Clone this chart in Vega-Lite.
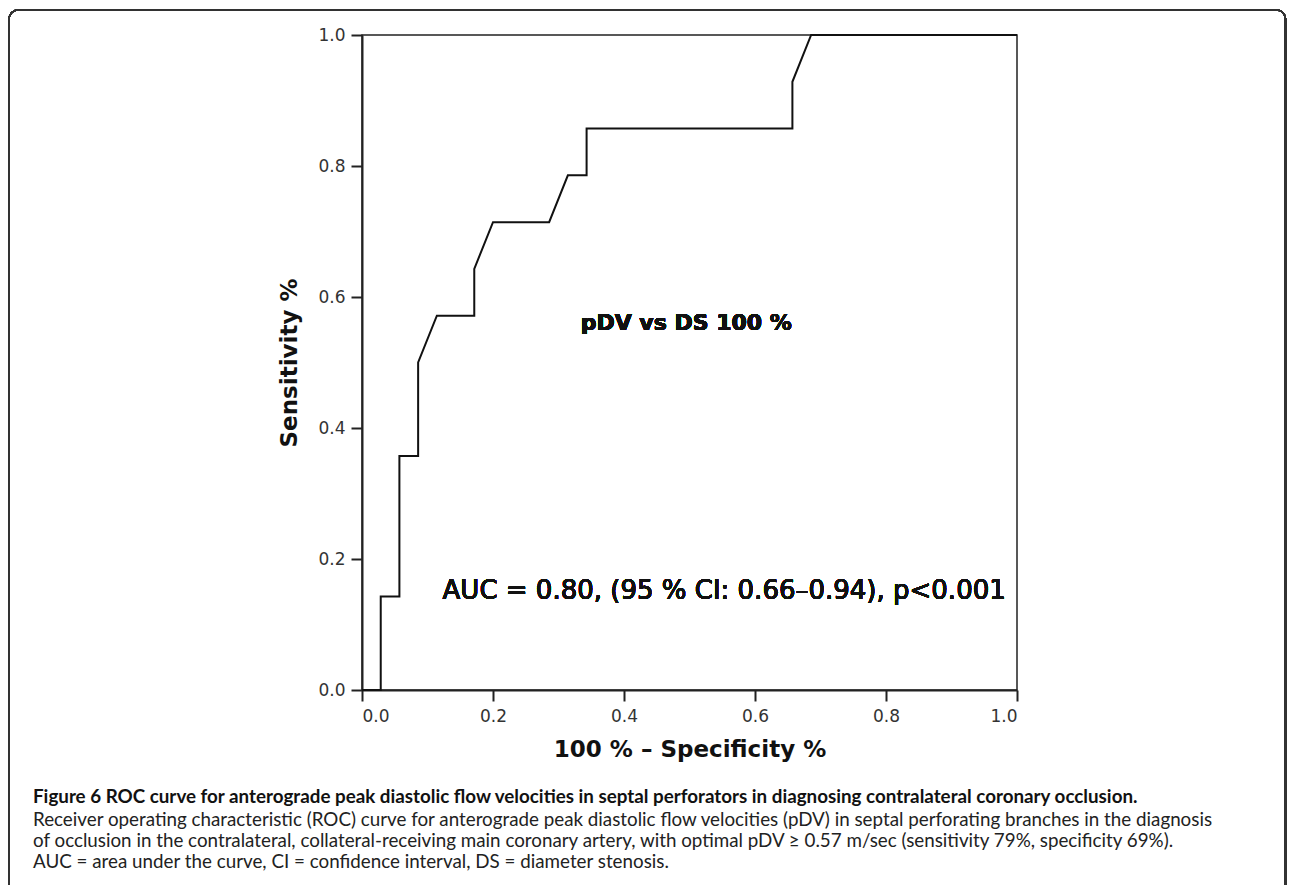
{
  "$schema": "https://vega.github.io/schema/vega-lite/v6.json",
  "width": 655,
  "height": 655,
  "autosize": {"type": "none"},
  "padding": {"left": 362, "top": 35, "right": 276, "bottom": 195},
  "background": "white",
  "config": {
    "view": {"stroke": "#222", "strokeWidth": 1.5},
    "font": "DejaVu Sans"
  },
  "title": {
    "text": "Figure 6 ROC curve for anterograde peak diastolic flow velocities in septal perforators in diagnosing contralateral coronary occlusion.",
    "subtitle": [
      "Receiver operating characteristic (ROC) curve for anterograde peak diastolic flow velocities (pDV) in septal perforating branches in the diagnosis",
      "of occlusion in the contralateral, collateral-receiving main coronary artery, with optimal pDV ≥ 0.57 m/sec (sensitivity 79%, specificity 69%).",
      "AUC = area under the curve, CI = confidence interval, DS = diameter stenosis."
    ],
    "orient": "bottom",
    "anchor": "start",
    "frame": "group",
    "dx": -329,
    "offset": -106,
    "font": "Lato",
    "fontSize": 18.8,
    "fontWeight": "bold",
    "color": "#111",
    "subtitleFont": "Lato",
    "subtitleFontSize": 18.8,
    "subtitleColor": "#222",
    "subtitleLineHeight": 21,
    "subtitlePadding": 4
  },
  "data": {
    "values": [
      {"fpr": 0.0, "tpr": 0.0, "step": 0},
      {"fpr": 0.0286, "tpr": 0.0, "step": 1},
      {"fpr": 0.0286, "tpr": 0.1429, "step": 2},
      {"fpr": 0.0571, "tpr": 0.1429, "step": 3},
      {"fpr": 0.0571, "tpr": 0.3571, "step": 4},
      {"fpr": 0.0857, "tpr": 0.3571, "step": 5},
      {"fpr": 0.0857, "tpr": 0.5, "step": 6},
      {"fpr": 0.1143, "tpr": 0.5714, "step": 7},
      {"fpr": 0.1714, "tpr": 0.5714, "step": 8},
      {"fpr": 0.1714, "tpr": 0.6429, "step": 9},
      {"fpr": 0.2, "tpr": 0.7143, "step": 10},
      {"fpr": 0.2857, "tpr": 0.7143, "step": 11},
      {"fpr": 0.3143, "tpr": 0.7857, "step": 12},
      {"fpr": 0.3429, "tpr": 0.7857, "step": 13},
      {"fpr": 0.3429, "tpr": 0.8571, "step": 14},
      {"fpr": 0.6571, "tpr": 0.8571, "step": 15},
      {"fpr": 0.6571, "tpr": 0.9286, "step": 16},
      {"fpr": 0.6857, "tpr": 1.0, "step": 17},
      {"fpr": 1.0, "tpr": 1.0, "step": 18}
    ]
  },
  "layer": [
    {
      "mark": {"type": "rect", "filled": false, "fill": null, "stroke": "#333", "strokeWidth": 1.5, "cornerRadius": 9, "clip": false},
      "encoding": {
        "x": {"datum": -0.539, "type": "quantitative"},
        "x2": {"datum": 1.410},
        "y": {"datum": 1.038, "type": "quantitative"},
        "y2": {"datum": -0.31}
      }
    },
    {
      "mark": {"type": "line", "color": "#111", "strokeWidth": 2, "interpolate": "linear"},
      "encoding": {
        "x": {
          "field": "fpr", "type": "quantitative",
          "scale": {"domain": [0, 1], "nice": false, "zero": true},
          "axis": {
            "title": "100 % – Specificity %",
            "values": [0, 0.2, 0.4, 0.6, 0.8, 1.0],
            "format": ".1f",
            "grid": false,
            "domainColor": "#222", "domainWidth": 2,
            "tickColor": "#222", "tickWidth": 2, "tickSize": 11,
            "labelFont": "DejaVu Sans", "labelFontSize": 17, "labelColor": "#333", "labelPadding": 7,
            "titleFont": "DejaVu Sans", "titleFontSize": 23, "titleFontWeight": "bold", "titleColor": "#111", "titlePadding": 14
          }
        },
        "y": {
          "field": "tpr", "type": "quantitative",
          "scale": {"domain": [0, 1], "nice": false, "zero": true},
          "axis": {
            "title": "Sensitivity %",
            "values": [0, 0.2, 0.4, 0.6, 0.8, 1.0],
            "format": ".1f",
            "grid": false,
            "domainColor": "#222", "domainWidth": 2,
            "tickColor": "#222", "tickWidth": 2, "tickSize": 11,
            "labelFont": "DejaVu Sans", "labelFontSize": 17, "labelColor": "#333", "labelPadding": 6,
            "titleFont": "DejaVu Sans", "titleFontSize": 23, "titleFontWeight": "bold", "titleColor": "#111", "titlePadding": 16
          }
        },
        "order": {"field": "step", "type": "quantitative"}
      }
    },
    {
      "mark": {"type": "text", "text": "pDV vs DS 100 %", "font": "DejaVu Sans", "fontSize": 22, "fontWeight": "bold", "color": "#111", "align": "center", "baseline": "middle"},
      "encoding": {
        "x": {"datum": 0.495},
        "y": {"datum": 0.56}
      }
    },
    {
      "mark": {"type": "text", "text": "AUC = 0.80, (95 % CI: 0.66–0.94), p<0.001", "font": "DejaVu Sans", "fontSize": 26, "fontWeight": "normal", "color": "#111", "align": "left", "baseline": "middle"},
      "encoding": {
        "x": {"datum": 0.123},
        "y": {"datum": 0.151}
      }
    }
  ]
}
